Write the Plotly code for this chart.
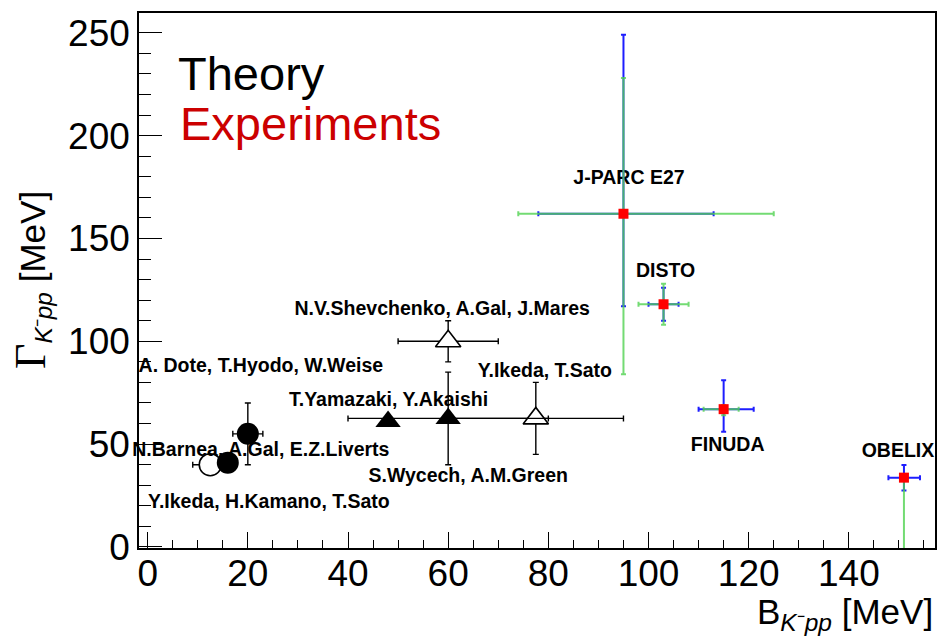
import plotly.graph_objects as go

# ---------------- theory predictions (B and width of K-pp, MeV) ----------------
# filled circles
fc_names = ["A. Dote, T.Hyodo, W.Weise", "N.Barnea, A.Gal, E.Z.Liverts"]
fc_B = [20, 16]
fc_G = [55, 41]
fc_dB = [3, 0]
fc_dG = [15, 0]

# open circle
oc_names = ["Y.Ikeda, H.Kamano, T.Sato"]
oc_B = [12.5]
oc_G = [40]
oc_dB = [3.5]

# filled triangles
ft_names = ["T.Yamazaki, Y.Akaishi", "S.Wycech, A.M.Green"]
ft_B = [48, 60]
ft_G = [61, 62.5]
ft_dB = [0, 20]
ft_dG = [0, 22.5]

# open triangles
ot_names = ["N.V.Shevchenko, A.Gal, J.Mares", "Y.Ikeda, T.Sato"]
ot_B = [60, 77.5]
ot_G = [100, 62.5]
ot_dB = [10, 17.5]
ot_dG = [10, 17.5]

# ---------------- experiments ----------------
ex_names = ["J-PARC E27", "DISTO", "FINUDA", "OBELIX"]
ex_B = [95, 103, 115, 151]
ex_G = [162, 118, 67, 33.7]
# statistical errors
ex_stat_B_plus = [18, 3, 6, 3.2]
ex_stat_B_minus = [17, 3, 5, 3.1]
ex_stat_G_plus = [87, 8, 14, 6.2]
ex_stat_G_minus = [45, 8, 11, 6.2]
# systematic errors
ex_syst_B_plus = [30, 5, 3, 0]
ex_syst_B_minus = [21, 5, 4, 0]
ex_syst_G_plus = [66, 10, 2, 0]
ex_syst_G_minus = [78, 10, 3, 40]

# ---------------- label placement (data coordinates) ----------------
label_text = ["J-PARC E27", "DISTO", "FINUDA", "OBELIX",
              "N.V.Shevchenko, A.Gal, J.Mares", "Y.Ikeda, T.Sato",
              "T.Yamazaki, Y.Akaishi", "S.Wycech, A.M.Green",
              "A. Dote, T.Hyodo, W.Weise", "N.Barnea, A.Gal, E.Z.Liverts",
              "Y.Ikeda, H.Kamano, T.Sato"]
label_B = [96.1, 103.4, 115.8, 149.8, 58.8, 79.3, 48.1, 64.0, 22.6, 22.6, 24.2]
label_G = [178.6, 133.6, 49.0, 46.2, 115.2, 84.8, 70.8, 34.0, 87.2, 46.7, 21.4]

FONT = "Liberation Sans"
BLACK = "black"
BLUE = "rgb(30,30,255)"
GREEN = "rgba(80,210,80,0.8)"
RED = "#ff0000"


def err(arr, minus=None, color=BLACK, thickness=1.4, width=3):
    d = dict(type="data", array=arr, color=color, thickness=thickness, width=width, visible=True)
    if minus is not None:
        d["symmetric"] = False
        d["arrayminus"] = minus
    return d


fig = go.Figure()

# open circle (white filled so bars stop at its edge)
fig.add_trace(go.Scatter(
    x=oc_B, y=oc_G, mode="markers", name="open circle", text=oc_names,
    marker=dict(symbol="circle", size=22, color="white", line=dict(color=BLACK, width=1.6)),
    error_x=err(oc_dB),
))

# open triangles
fig.add_trace(go.Scatter(
    x=ot_B, y=ot_G, mode="markers", name="open triangles", text=ot_names,
    marker=dict(symbol="triangle-up", size=22, color="white", line=dict(color=BLACK, width=1.6)),
    error_x=err(ot_dB), error_y=err(ot_dG),
))

# author / experiment labels
fig.add_trace(go.Scatter(
    x=label_B, y=label_G, mode="text", text=label_text, textposition="middle center",
    textfont=dict(family=FONT, size=19.5, color=BLACK, weight="bold"),
    cliponaxis=False, hoverinfo="skip",
))

# filled circles
fig.add_trace(go.Scatter(
    x=fc_B, y=fc_G, mode="markers", name="filled circles", text=fc_names,
    marker=dict(symbol="circle", size=22, color=BLACK),
    error_x=err(fc_dB), error_y=err(fc_dG),
))

# filled triangles
fig.add_trace(go.Scatter(
    x=ft_B, y=ft_G, mode="markers", name="filled triangles", text=ft_names,
    marker=dict(symbol="triangle-up", size=22, color=BLACK),
    error_x=err(ft_dB), error_y=err(ft_dG),
))

# experiments: statistical (blue) then systematic (green) error bars, then points
fig.add_trace(go.Scatter(
    x=ex_B, y=ex_G, mode="markers", marker=dict(size=1, opacity=0),
    error_x=err(ex_stat_B_plus, ex_stat_B_minus, BLUE, 2, 2.5),
    error_y=err(ex_stat_G_plus, ex_stat_G_minus, BLUE, 2, 2.5),
    hoverinfo="skip",
))
fig.add_trace(go.Scatter(
    x=ex_B, y=ex_G, mode="markers", marker=dict(size=1, opacity=0),
    error_x=err(ex_syst_B_plus, ex_syst_B_minus, GREEN, 2, 2.5),
    error_y=err(ex_syst_G_plus, ex_syst_G_minus, GREEN, 2, 2.5),
    hoverinfo="skip",
))
fig.add_trace(go.Scatter(
    x=ex_B, y=ex_G, mode="markers", name="experiments", text=ex_names,
    marker=dict(symbol="square", size=10, color=RED, line=dict(width=0)),
))

axis_common = dict(
    showgrid=False, zeroline=False, showline=True, mirror=True,
    linecolor=BLACK, linewidth=1.5, ticks="inside", tickcolor=BLACK, tickwidth=1.3,
    tickfont=dict(family=FONT, size=37, color=BLACK), tickmode="linear",
)

fig.update_xaxes(
    range=[-1.73, 157.2], tick0=0, dtick=20, ticklen=16, ticklabelstandoff=-8,
    minor=dict(dtick=5, tick0=0, ticks="inside", ticklen=8, tickwidth=1.3, tickcolor=BLACK, showgrid=False),
    **axis_common,
)
fig.update_yaxes(
    range=[-0.5, 259.6], tick0=0, dtick=50, ticklen=23,
    minor=dict(dtick=10, tick0=0, ticks="inside", ticklen=12, tickwidth=1.3, tickcolor=BLACK, showgrid=False),
    **axis_common,
)

fig.update_layout(
    width=940, height=636,
    margin=dict(l=139, r=3, t=13, b=88),
    paper_bgcolor="white", plot_bgcolor="white",
    showlegend=False,
    font=dict(family=FONT, color=BLACK),
    annotations=[
        dict(text="Theory", xref="paper", yref="paper", x=0.0469, y=0.8867,
             xanchor="left", yanchor="middle", showarrow=False,
             font=dict(family=FONT, size=47, color=BLACK)),
        dict(text="Experiments", xref="paper", yref="paper", x=0.0485, y=0.7933,
             xanchor="left", yanchor="middle", showarrow=False,
             font=dict(family=FONT, size=47, color="#cc0000")),
        dict(text="B<sub><i>K</i>⁻<i>pp</i></sub> [MeV]", xref="paper", yref="paper",
             x=1.0, y=-0.123, xanchor="right", yanchor="middle", showarrow=False,
             font=dict(family=FONT, size=35, color=BLACK)),
        dict(text='<span style="font-family:Liberation Serif;font-size:44px">Γ</span>'
                  '<sub><i>K</i>⁻<i>pp</i></sub> [MeV]',
             xref="paper", yref="paper", x=-0.135, y=0.5, textangle=-90,
             xanchor="center", yanchor="middle", showarrow=False,
             font=dict(family=FONT, size=35, color=BLACK)),
    ],
)

fig.write_html("out.html")
